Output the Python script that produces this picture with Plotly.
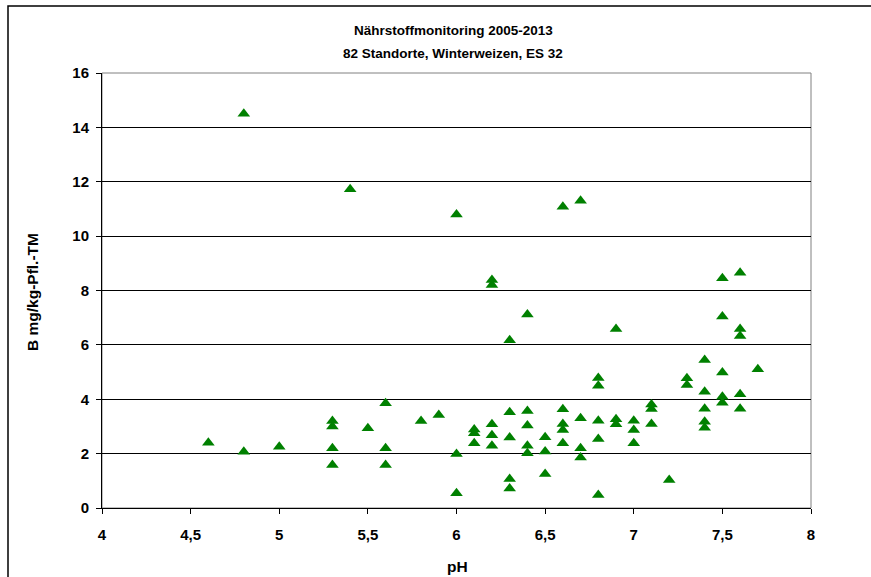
import plotly.graph_objects as go

ph = [4.6, 4.8, 4.8, 5.0,
      5.3, 5.3, 5.3, 5.3,
      5.4, 5.5,
      5.6, 5.6, 5.6,
      5.8, 5.9,
      6.0, 6.0, 6.0,
      6.1, 6.1, 6.1,
      6.2, 6.2, 6.2, 6.2, 6.2,
      6.3, 6.3, 6.3, 6.3, 6.3,
      6.4, 6.4, 6.4, 6.4, 6.4,
      6.5, 6.5, 6.5,
      6.6, 6.6, 6.6, 6.6, 6.6,
      6.7, 6.7, 6.7, 6.7,
      6.8, 6.8, 6.8, 6.8, 6.8,
      6.9, 6.9, 6.9,
      7.0, 7.0, 7.0,
      7.1, 7.1, 7.1,
      7.2,
      7.3, 7.3,
      7.4, 7.4, 7.4, 7.4, 7.4,
      7.5, 7.5, 7.5, 7.5, 7.5,
      7.6, 7.6, 7.6, 7.6, 7.6,
      7.7]
boron = [2.4, 14.5, 2.07, 2.25,
         3.2, 3.0, 2.2, 1.58,
         11.72, 2.93,
         3.85, 2.2, 1.58,
         3.2, 3.42,
         10.8, 1.99, 0.54,
         2.89, 2.75, 2.38,
         8.39, 8.2, 3.08, 2.68, 2.29,
         6.17, 3.52, 2.59, 1.07, 0.72,
         7.12, 3.57, 3.03, 2.29, 2.01,
         2.6, 2.08, 1.25,
         11.08, 3.63, 3.09, 2.87, 2.38,
         11.3, 3.3, 2.2, 1.86,
         4.78, 4.5, 3.21, 2.54, 0.48,
         6.58, 3.26, 3.08,
         3.21, 2.87, 2.38,
         3.81, 3.64, 3.09,
         1.03,
         4.77, 4.52,
         5.44, 4.28, 3.65, 3.17, 2.95,
         8.45, 7.04, 4.98, 4.09, 3.87,
         8.65, 6.58, 6.33, 4.18, 3.65,
         5.1]

x_ticks = [4, 4.5, 5, 5.5, 6, 6.5, 7, 7.5, 8]
x_tick_labels = ["4", "4,5", "5", "5,5", "6", "6,5", "7", "7,5", "8"]
y_ticks = [0, 2, 4, 6, 8, 10, 12, 14, 16]

title_line1 = "Nährstoffmonitoring 2005-2013"
title_line2 = "82 Standorte, Winterweizen, ES 32"
x_title = "pH"
y_title = "B mg/kg-Pfl.-TM"

FONT = "Liberation Sans, Arial, sans-serif"

W, H = 871, 577
L, R, T, B = 102, 60, 73, 69
pw = W - L - R
ph_ = H - T - B


def px_x(px):
    return (px - L) / pw


def px_y(py):
    return (H - B - py) / ph_


fig = go.Figure()
fig.add_trace(go.Scatter(
    x=ph, y=boron, mode="markers",
    marker=dict(symbol="triangle-up", size=11, color="#008000",
                line=dict(width=0)),
    showlegend=False, hoverinfo="x+y",
))

ann = [
    dict(text="<b>" + title_line1 + "</b>", x=px_x(453), y=px_y(30),
         font=dict(family=FONT, size=13.5, color="black")),
    dict(text="<b>" + title_line2 + "</b>", x=px_x(453), y=px_y(53),
         font=dict(family=FONT, size=13.5, color="black")),
    dict(text="<b>" + x_title + "</b>", x=px_x(457), y=px_y(566),
         font=dict(family=FONT, size=15.5, color="black")),
    dict(text="<b>" + y_title + "</b>", x=px_x(32), y=px_y(292), textangle=-90,
         font=dict(family=FONT, size=15.5, color="black")),
]
for a in ann:
    a.update(xref="paper", yref="paper", showarrow=False,
             xanchor="center", yanchor="middle")

fig.update_layout(
    width=W, height=H,
    margin=dict(l=L, r=R, t=T, b=B),
    paper_bgcolor="white", plot_bgcolor="white",
    font=dict(family=FONT, size=15, color="black"),
    xaxis=dict(range=[4, 8], tickvals=x_ticks,
               ticktext=["<b>%s</b>" % t for t in x_tick_labels],
               showgrid=False, zeroline=False, showline=True,
               linecolor="black", linewidth=1,
               ticks="outside", ticklen=5, tickcolor="black",
               tickfont=dict(family=FONT, size=15), ticklabelstandoff=8),
    yaxis=dict(range=[0, 16], tickvals=y_ticks,
               ticktext=["<b>%d</b>" % v for v in y_ticks],
               showgrid=True, gridcolor="black", gridwidth=1, zeroline=False,
               showline=True, linecolor="black", linewidth=1,
               ticks="outside", ticklen=5, tickcolor="black",
               tickfont=dict(family=FONT, size=15), ticklabelstandoff=4),
    annotations=ann,
    shapes=[
        dict(type="rect", xref="paper", yref="paper", x0=0, y0=0, x1=1, y1=1,
             line=dict(color="#808080", width=1), layer="below"),
        dict(type="rect", xref="paper", yref="paper",
             x0=px_x(8), x1=px_x(900),
             y0=px_y(600), y1=px_y(6),
             line=dict(color="black", width=1.5)),
    ],
)

fig.write_html("out.html", config={"displayModeBar": False},
               post_script="document.body.style.margin='0';")
